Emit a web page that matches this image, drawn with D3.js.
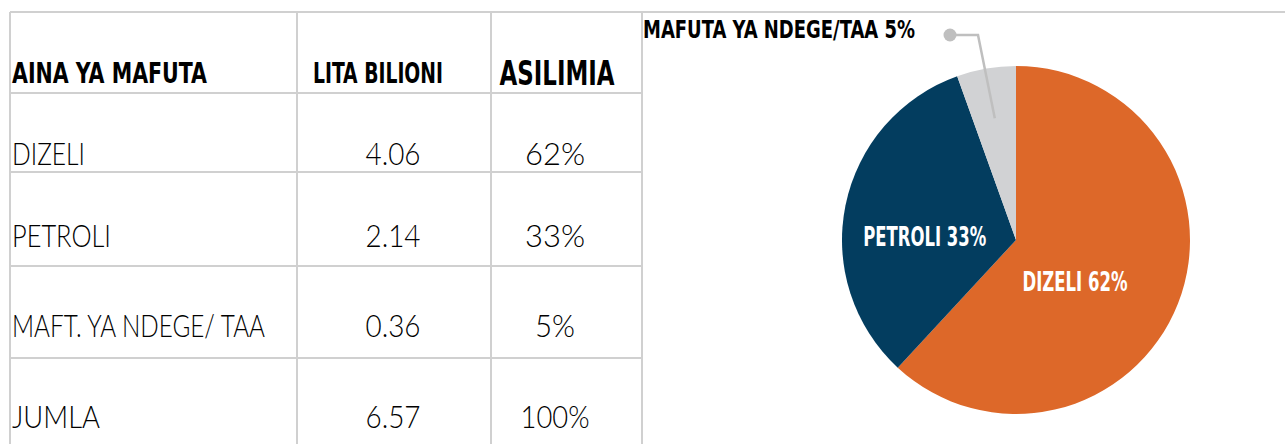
<!DOCTYPE html>
<html><head><meta charset="utf-8">
<script src="https://cdn.jsdelivr.net/npm/d3@7"></script>
<style>
html,body{margin:0;padding:0;background:#fff;}
svg{display:block;}
</style></head>
<body>
<svg id="chart" width="1285" height="444"></svg>
<script>
// ---- data ----
const headers = ["AINA YA MAFUTA", "LITA BILIONI", "ASILIMIA"];
const fuels = ["DIZELI", "PETROLI", "MAFT. YA NDEGE/ TAA", "JUMLA"];
const litres = [4.06, 2.14, 0.36, 6.57];
const percents = ["62%", "33%", "5%", "100%"];
const pieCategories = ["DIZELI", "PETROLI", "MAFUTA YA NDEGE/TAA"];
const pieValues = [4.06, 2.14, 0.36];
const pieColors = ["#DD6829", "#033D5F", "#D1D2D4"];

// ---- layout ----
const svg = d3.select("#chart");
const W = 1285, H = 444;
const colX = [10, 297, 491, 642];
const rowY = [12, 93, 172, 266, 358, H];
const grid = "#D0D0D0";
const regFont = "Lato, 'DejaVu Sans Condensed', sans-serif";
const boldFont = "'Liberation Sans Narrow', 'DejaVu Sans Condensed', sans-serif";

// grid lines
const g = svg.append("g");
g.append("line").attr("x1", colX[0]).attr("x2", W).attr("y1", rowY[0]).attr("y2", rowY[0])
  .attr("stroke", grid).attr("stroke-width", 2);
colX.forEach(x => g.append("line").attr("x1", x).attr("x2", x).attr("y1", rowY[0]).attr("y2", H)
  .attr("stroke", grid).attr("stroke-width", 2));
rowY.slice(1, 5).forEach(y => g.append("line").attr("x1", colX[0]).attr("x2", colX[3]).attr("y1", y).attr("y2", y)
  .attr("stroke", grid).attr("stroke-width", 2));

// headers
const headerSpec = [
  {x: 12, anchor: "start", len: 195, size: 29, base: 83},
  {x: 378, anchor: "middle", len: 130, size: 29, base: 83},
  {x: 557, anchor: "middle", len: 115, size: 33, base: 85}
];
headers.forEach((h, i) => {
  const s = headerSpec[i];
  g.append("text").attr("x", s.x).attr("y", s.base).attr("text-anchor", s.anchor)
    .attr("font-family", boldFont).attr("font-weight", "bold").attr("font-size", s.size)
    .attr("fill", "#000").attr("textLength", s.len).attr("lengthAdjust", "spacingAndGlyphs").text(h);
});

// rows
const baselines = [165, 247, 337, 428];
const nameLen = [73, 99, 253, 88];
const pctLen = [60, 60, 40, 69];
const fmt = d3.format(".2f");
fuels.forEach((f, i) => {
  g.append("text").attr("x", 12).attr("y", baselines[i])
    .attr("font-family", regFont).attr("font-weight", 300).attr("font-size", 32).attr("fill", "#000")
    .attr("textLength", nameLen[i]).attr("lengthAdjust", "spacingAndGlyphs").text(f);
  g.append("text").attr("x", 393).attr("y", baselines[i]).attr("text-anchor", "middle")
    .attr("font-family", regFont).attr("font-weight", 300).attr("font-size", 32).attr("fill", "#000")
    .attr("textLength", 55).attr("lengthAdjust", "spacingAndGlyphs").text(fmt(litres[i]));
  g.append("text").attr("x", 555).attr("y", baselines[i]).attr("text-anchor", "middle")
    .attr("font-family", regFont).attr("font-weight", 300).attr("font-size", 32).attr("fill", "#000")
    .attr("textLength", pctLen[i]).attr("lengthAdjust", "spacingAndGlyphs").text(percents[i]);
});

// ---- pie ----
const cx = 1016, cy = 240, R = 174;
const pie = d3.pie().sort(null).value(d => d)(pieValues);
const arc = d3.arc().innerRadius(0).outerRadius(R);
const total = d3.sum(pieValues);
const pctFmt = v => Math.round(v / total * 100) + "%";
const pg = svg.append("g").attr("transform", `translate(${cx},${cy})`);
pg.selectAll("path").data(pie).join("path")
  .attr("d", arc).attr("fill", (d, i) => pieColors[i]);

// inside labels
const labelArc = d3.arc().innerRadius(R * 0.5).outerRadius(R * 0.5);
const nudges = [[-22, 19], [-6, 23]];
[0, 1].forEach(i => {
  const c = labelArc.centroid(pie[i]);
  pg.append("text").attr("x", c[0] + nudges[i][0]).attr("y", c[1] + nudges[i][1])
    .attr("text-anchor", "middle").attr("font-family", boldFont).attr("font-weight", "bold")
    .attr("font-size", 26).attr("fill", "#fff")
    .attr("textLength", i === 0 ? 105 : 123).attr("lengthAdjust", "spacingAndGlyphs")
    .text(pieCategories[i] + " " + pctFmt(pieValues[i]));
});

// outside label with leader
const leaderArc = d3.arc().innerRadius(R * 0.71).outerRadius(R * 0.71);
const p0 = leaderArc.centroid(pie[2]);
const elbow = [-38, -205], dot = [-66, -205];
pg.append("polyline").attr("points", [p0, elbow, dot].map(p => p.join(",")).join(" "))
  .attr("fill", "none").attr("stroke", "#BFBFBF").attr("stroke-width", 2.5);
pg.append("circle").attr("cx", dot[0]).attr("cy", dot[1]).attr("r", 6.5).attr("fill", "#BFBFBF");
pg.append("text").attr("x", -101).attr("y", -202).attr("text-anchor", "end")
  .attr("font-family", boldFont).attr("font-weight", "bold").attr("font-size", 25).attr("fill", "#000")
  .attr("textLength", 272).attr("lengthAdjust", "spacingAndGlyphs")
  .text("MAFUTA YA NDEGE/TAA " + pctFmt(pieValues[2]));
</script>
</body></html>
